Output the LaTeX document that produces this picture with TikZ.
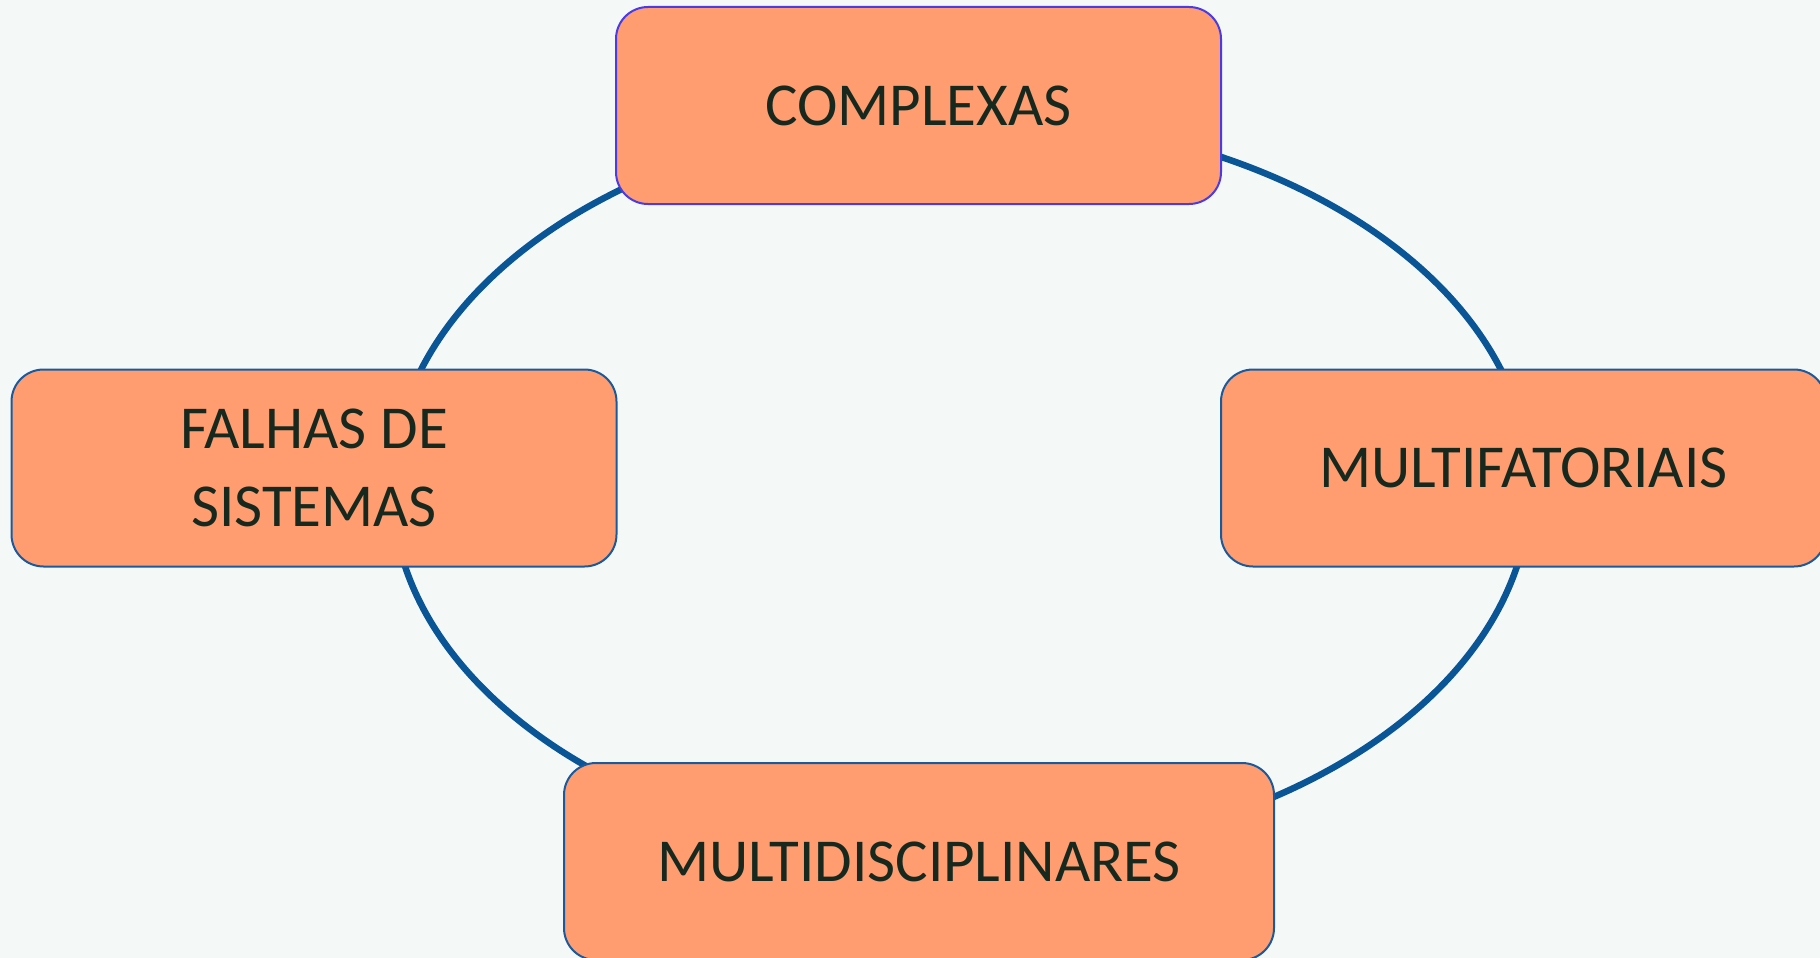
\documentclass[tikz,border=0pt]{standalone}
\usepackage{fontspec}
\setmainfont{Carlito}
\definecolor{bgc}{HTML}{F4F9F7}
\definecolor{boxfill}{HTML}{FF9D70}
\definecolor{ringc}{HTML}{0A5596}
\definecolor{edgeA}{HTML}{4B3BE6}
\definecolor{edgeB}{HTML}{1A5A9C}
\definecolor{txt}{HTML}{17291F}
\tikzset{
  box/.style={rectangle, rounded corners=32pt, fill=boxfill, draw=edgeB, line width=2pt,
    minimum width=605pt, minimum height=197pt, inner sep=0pt, align=center,
    text=txt, font=\fontsize{61}{78}\selectfont},
  ring/.style={draw=ringc, line width=6.5pt}
}
\begin{document}
\begin{tikzpicture}[x=1pt,y=-1pt]
\useasboundingbox (0,0) rectangle (1820,958);
\fill[bgc] (0,0) rectangle (1820,958);
\coordinate (ctr) at (961,487);
\draw[ring] (ctr) ellipse [x radius=569, y radius=371];
\node[box, draw=edgeA] (cx) at (918.5,105.5) {COMPLEXAS};
\node[box] (fs) at (314,468) {FALHAS DE\\SISTEMAS};
\node[box] (mf) at (1523.5,468) {MULTIFATORIAIS};
\node[box, minimum width=710pt] (md) at (919,861.5) {MULTIDISCIPLINARES};
\end{tikzpicture}
\end{document}
